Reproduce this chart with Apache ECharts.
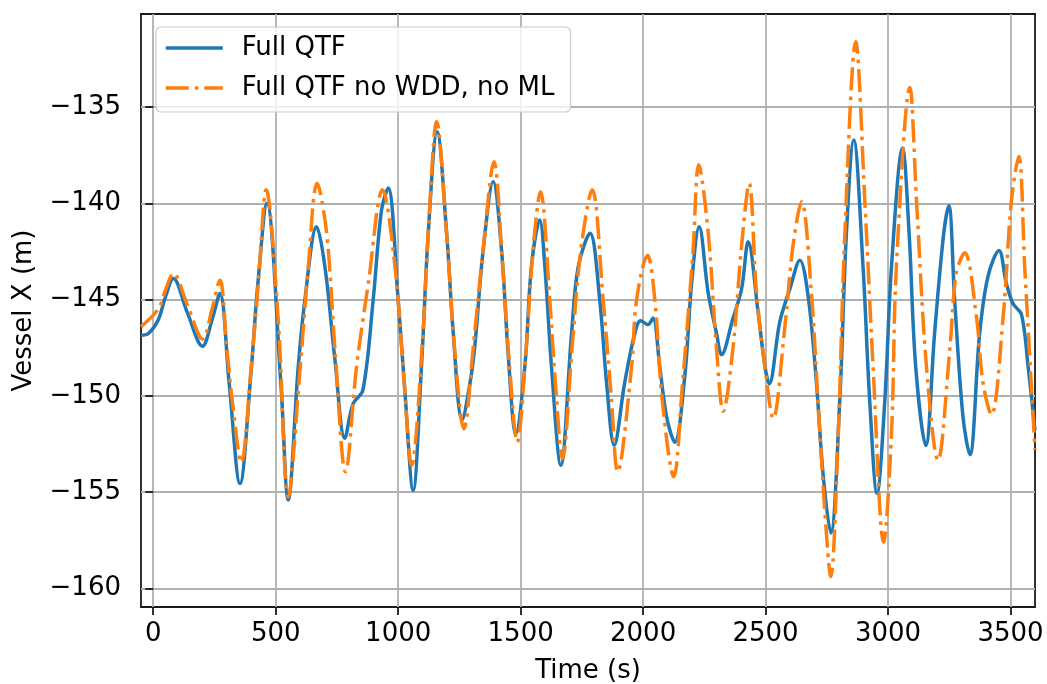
<!DOCTYPE html>
<html>
<head>
<meta charset="utf-8">
<script src="https://cdn.jsdelivr.net/npm/echarts@6/dist/echarts.min.js"></script>
<style>html,body{margin:0;padding:0;background:#fff}#c{width:1047px;height:684px}</style>
</head>
<body>
<div id="c"></div>
<script>
// Data
const seriesNames = ['Full QTF', 'Full QTF no WDD, no ML'];
const xTicks = [0, 500, 1000, 1500, 2000, 2500, 3000, 3500];
const yTicks = [-160, -155, -150, -145, -140, -135];

const tFull = [-50,-20,20,50,82,140,201,240,272,310,354,399,426,464,521,551,592,619,667,701,742,782,816,856,898,932,959,1000,1027,1061,1095,1123,1159,1198,1225,1261,1293,1313,1347,1388,1422,1449,1480,1517,1544,1578,1599,1626,1664,1708,1735,1783,1823,1851,1882,1925,1966,1990,2020,2040,2068,2096,2129,2170,2198,2229,2266,2300,2320,2367,2402,2429,2469,2497,2515,2558,2599,2640,2674,2708,2735,2766,2803,2830,2860,2898,2925,2955,2987,3014,3059,3086,3113,3154,3190,3227,3248,3272,3306,3334,3374,3408,3453,3483,3510,3545,3572,3600];
const vFull = [-146.85,-146.76,-146.06,-144.85,-143.9,-145.7,-147.42,-146.06,-144.68,-149.35,-154.55,-148.8,-144.33,-140.0,-149.35,-155.4,-148.49,-145.03,-141.22,-143.3,-148.14,-152.2,-150.4,-149.7,-145.0,-140.35,-139.2,-145.03,-149.7,-154.9,-148.49,-141.5,-136.28,-141.56,-146.76,-151.26,-149.35,-147.4,-142.43,-138.88,-142.43,-147.8,-151.95,-148.49,-143.3,-140.87,-143.3,-148.49,-153.6,-146.76,-143.3,-141.56,-145.03,-149.35,-152.56,-149.3,-146.76,-146.1,-146.3,-145.96,-148.49,-151.09,-152.4,-149.0,-144.16,-141.22,-144.68,-146.76,-147.86,-145.97,-144.45,-142.0,-145.6,-148.43,-149.37,-146.16,-144.45,-142.95,-144.84,-149.37,-154.1,-157.12,-150.2,-141.56,-136.71,-143.3,-150.2,-155.06,-150.2,-143.3,-137.13,-141.56,-148.49,-152.57,-146.76,-141.6,-140.12,-145.03,-151.09,-153.05,-146.76,-143.8,-142.45,-144.16,-145.2,-145.78,-148.49,-151.8];

const tNoWdd = [-50,20,50,82,140,202,240,272,300,325,359,400,430,461,510,551,600,633,669,708,742,785,830,878,936,987,1020,1055,1100,1125,1157,1200,1230,1268,1310,1350,1391,1425,1455,1486,1520,1550,1581,1619,1640,1671,1710,1745,1792,1837,1871,1896,1953,1973,2018,2048,2078,2125,2160,2204,2227,2266,2300,2327,2367,2402,2433,2463,2497,2531,2578,2612,2647,2687,2714,2742,2766,2796,2823,2868,2905,2939,2982,3014,3034,3089,3116,3157,3204,3252,3279,3313,3361,3388,3422,3470,3504,3534,3558,3600];
const vNoWdd = [-146.4,-145.5,-144.5,-143.64,-145.3,-147.05,-145.5,-143.99,-147.5,-150.5,-153.45,-148.5,-144.0,-139.3,-146.0,-155.24,-148.5,-143.3,-138.96,-141.56,-147.6,-153.94,-148.49,-144.16,-139.3,-143.3,-148.49,-153.6,-147.0,-141.0,-135.76,-142.0,-147.5,-151.7,-147.0,-142.0,-137.84,-143.0,-148.5,-152.4,-148.0,-142.5,-139.4,-145.03,-149.0,-153.25,-147.5,-142.5,-139.3,-145.03,-150.2,-153.94,-148.49,-145.03,-142.7,-145.03,-150.2,-154.2,-149.5,-142.43,-138.0,-141.56,-147.6,-150.8,-147.5,-142.2,-138.98,-144.65,-148.43,-151.17,-146.5,-142.2,-139.92,-144.65,-150.3,-155.99,-159.38,-152.2,-141.8,-131.61,-139.83,-148.5,-157.6,-151.96,-143.3,-133.98,-139.83,-148.49,-153.34,-147.6,-143.6,-142.57,-145.9,-149.35,-150.97,-145.9,-139.83,-137.57,-143.3,-152.8];

const pair = (ts, vs) => ts.map((t, i) => [t, vs[i]]);
const FONT = 'DejaVu Sans';
const minusFmt = v => (v < 0 ? '\u2212' + Math.abs(v) : String(v));

const chart = echarts.init(document.getElementById('c'), null, { renderer: 'canvas' });
chart.setOption({
  animation: false,
  backgroundColor: '#ffffff',
  grid: {
    left: 141, right: 12, top: 14, bottom: 77,
    outerBoundsMode: 'none', containLabel: false,
    show: true, borderColor: '#1a1a1a', borderWidth: 1.8, backgroundColor: 'transparent'
  },
  legend: {
    orient: 'vertical',
    left: 156, top: 27,
    padding: [6, 16, 9, 8],
    itemGap: 10,
    itemWidth: 57, itemHeight: 14,
    backgroundColor: 'rgba(255,255,255,0.8)',
    borderColor: '#cccccc', borderWidth: 1.2, borderRadius: 5,
    itemStyle: { opacity: 0, borderWidth: 0 },
    lineStyle: { width: 3.5 },
    textStyle: { fontFamily: FONT, fontSize: 26, color: '#000', lineHeight: 30, padding: [0, 0, 0, 14] },
    data: seriesNames
  },
  xAxis: {
    type: 'value', min: -50, max: 3600,
    name: 'Time (s)', nameLocation: 'middle', nameGap: 51,
    nameTextStyle: { fontFamily: FONT, fontSize: 26, color: '#000' },
    axisLine: { show: false },
    axisTick: { show: true, length: 8, customValues: xTicks, lineStyle: { color: '#1a1a1a', width: 1.8 } },
    axisLabel: { customValues: xTicks, fontFamily: FONT, fontSize: 26, color: '#000', margin: 14, formatter: minusFmt },
    splitLine: { show: true, lineStyle: { color: '#b0b0b0', width: 1.8 } }
  },
  yAxis: {
    type: 'value', min: -160.96, max: -130.17,
    name: 'Vessel X (m)', nameLocation: 'middle', nameGap: 104, nameRotate: 90,
    nameTextStyle: { fontFamily: FONT, fontSize: 26, color: '#000' },
    axisLine: { show: false },
    axisTick: { show: true, length: 8, customValues: yTicks, lineStyle: { color: '#1a1a1a', width: 1.8 } },
    axisLabel: { customValues: yTicks, fontFamily: FONT, fontSize: 26, color: '#000', margin: 20, formatter: minusFmt },
    splitLine: { show: true, lineStyle: { color: '#b0b0b0', width: 1.8 } }
  },
  series: [
    {
      name: seriesNames[0], type: 'line', data: pair(tFull, vFull),
      showSymbol: false, symbol: 'none', smooth: 0.35, clip: true,
      lineStyle: { color: '#1f77b4', width: 3.5 }, itemStyle: { color: '#1f77b4' }
    },
    {
      name: seriesNames[1], type: 'line', data: pair(tNoWdd, vNoWdd),
      showSymbol: false, symbol: 'none', smooth: 0.35, clip: true,
      lineStyle: { color: '#ff7f0e', width: 3.5, type: [23, 6, 3.5, 6], cap: 'butt' }, itemStyle: { color: '#ff7f0e' }
    }
  ]
});
</script>
</body>
</html>
